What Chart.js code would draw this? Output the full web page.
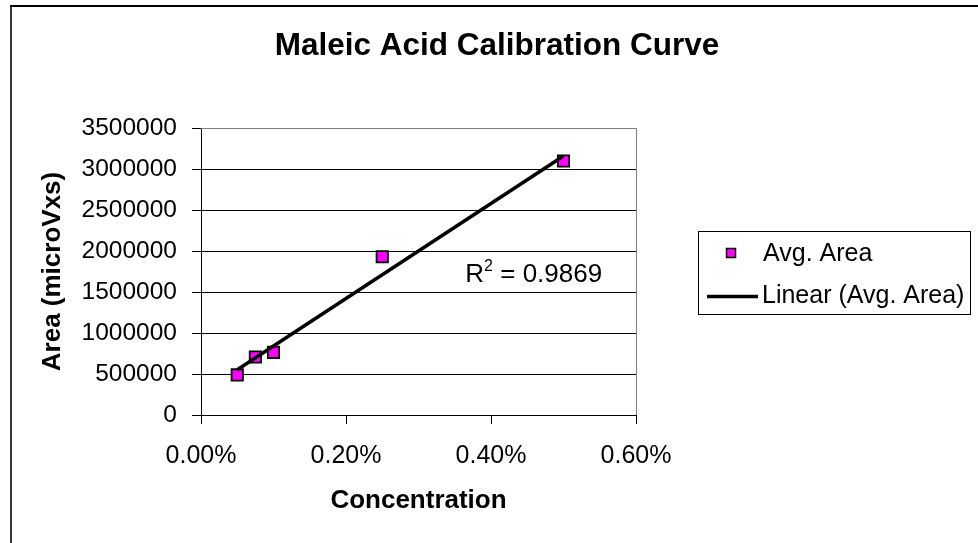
<!DOCTYPE html>
<html><head><meta charset="utf-8">
<script src="https://cdn.jsdelivr.net/npm/chart.js@4.4.0/dist/chart.umd.min.js"></script>
<style>html,body{margin:0;padding:0;background:#fff;overflow:hidden;}</style>
</head><body>
<canvas id="c" width="978" height="543" style="display:block;width:978px;height:543px"></canvas>
<script>
const titleText = 'Maleic Acid Calibration Curve';
const xTitle = 'Concentration';
const yTitle = 'Area (microVxs)';
const seriesName = 'Avg. Area';
const trendName = 'Linear (Avg. Area)';
const concentration = [0.0005, 0.00075, 0.001, 0.0025, 0.005];
const avgArea = [489000, 708000, 764000, 1930000, 3098000];
const trendConcentration = [0.0005, 0.005];
const trendArea = [552000, 3158000];
const xTicks = [0, 0.002, 0.004, 0.006];
const yTicks = [0, 500000, 1000000, 1500000, 2000000, 2500000, 3000000, 3500000];
const rSquared = '0.9869';

const FONT = "'Liberation Sans', Arial, sans-serif";

const decor = {
  id: 'decor',
  beforeDatasetsDraw(chart) {
    const {ctx, chartArea: a} = chart;
    ctx.save();
    ctx.strokeStyle = '#808080';
    ctx.lineWidth = 1;
    ctx.beginPath();
    ctx.moveTo(a.left, Math.round(a.top) + 0.5);
    ctx.lineTo(Math.round(a.right) + 0.5, Math.round(a.top) + 0.5);
    ctx.lineTo(Math.round(a.right) + 0.5, a.bottom);
    ctx.stroke();
    ctx.restore();
  },
  afterDraw(chart) {
    const {ctx} = chart;
    const xs = chart.scales.x, ys = chart.scales.y;
    ctx.save();
    // outer frame
    ctx.fillStyle = '#3a3a3a';
    ctx.fillRect(10, 6, 2, 543);
    ctx.fillStyle = '#000';
    ctx.fillRect(10, 5, 968, 2);
    // title
    ctx.fillStyle = '#000';
    ctx.font = 'bold 31.5px ' + FONT;
    ctx.textAlign = 'center';
    ctx.textBaseline = 'middle';
    ctx.fillText(titleText, 497, 46);
    // legend box
    ctx.strokeStyle = '#000';
    ctx.lineWidth = 1;
    ctx.strokeRect(698.5, 231.5, 272, 83);
    ctx.fillStyle = '#FF00FF';
    ctx.fillRect(726.5, 248.5, 9, 9);
    ctx.lineWidth = 1.5;
    ctx.strokeRect(726.5, 248.5, 9, 9);
    ctx.lineWidth = 3.5;
    ctx.beginPath();
    ctx.moveTo(707, 296.5);
    ctx.lineTo(758, 296.5);
    ctx.stroke();
    ctx.fillStyle = '#000';
    ctx.font = '25px ' + FONT;
    ctx.textAlign = 'left';
    ctx.textBaseline = 'middle';
    ctx.fillText(seriesName, 763, 254);
    ctx.fillText(trendName, 762, 296);
    // R squared label, anchored in data coordinates
    const rx = xs.getPixelForValue(0.003646);
    const ry = ys.getPixelForValue(1625000);
    ctx.textBaseline = 'alphabetic';
    ctx.font = '26px ' + FONT;
    ctx.fillText('R', rx, ry);
    const w1 = ctx.measureText('R').width;
    ctx.font = '16px ' + FONT;
    ctx.fillText('2', rx + w1, ry - 11);
    const w2 = ctx.measureText('2').width;
    ctx.font = '26px ' + FONT;
    ctx.fillText(' = ' + rSquared, rx + w1 + w2, ry);
    ctx.restore();
  }
};

new Chart(document.getElementById('c'), {
  type: 'scatter',
  data: {
    datasets: [
      {
        label: trendName,
        type: 'line',
        data: trendConcentration.map((x, i) => ({x, y: trendArea[i]})),
        borderColor: '#000',
        borderWidth: 3.5,
        pointRadius: 0,
        fill: false,
        order: 0
      },
      {
        label: seriesName,
        data: concentration.map((x, i) => ({x, y: avgArea[i]})),
        pointStyle: 'rect',
        pointRadius: 8,
        backgroundColor: '#FF00FF',
        borderColor: '#000',
        borderWidth: 1.8,
        order: 1
      }
    ]
  },
  options: {
    responsive: false,
    animation: false,
    events: [],
    layout: {padding: {top: 128, right: 342, bottom: 0, left: 0}},
    plugins: {legend: {display: false}, title: {display: false}, tooltip: {enabled: false}},
    scales: {
      x: {
        type: 'linear',
        min: xTicks[0],
        max: xTicks[xTicks.length - 1],
        afterBuildTicks(s) { s.ticks = xTicks.map(v => ({value: v})); },
        afterFit(s) { s.height = 128; },
        ticks: {
          color: '#000',
          font: {family: FONT, size: 25},
          padding: 17,
          maxRotation: 0,
          autoSkip: false,
          callback: v => (v * 100).toFixed(2) + '%'
        },
        grid: {drawOnChartArea: false, drawTicks: true, tickLength: 9, tickColor: '#000', color: '#000'},
        border: {color: '#000', width: 1},
        title: {display: true, text: xTitle, color: '#000', font: {family: FONT, size: 26, weight: 'bold'}, padding: {top: 0, bottom: 27}}
      },
      y: {
        type: 'linear',
        min: yTicks[0],
        max: yTicks[yTicks.length - 1],
        afterBuildTicks(s) { s.ticks = yTicks.map(v => ({value: v})); },
        afterFit(s) { s.width = 201; },
        ticks: {
          color: '#000',
          font: {family: FONT, size: 24.5},
          padding: 15,
          autoSkip: false,
          callback: v => String(v)
        },
        grid: {drawOnChartArea: true, drawTicks: true, tickLength: 9, tickColor: '#000', color: '#000', lineWidth: 1},
        border: {color: '#000', width: 1},
        title: {display: true, text: yTitle, color: '#000', font: {family: FONT, size: 26, weight: 'bold'}, padding: {top: 37, bottom: 0}}
      }
    }
  },
  plugins: [decor]
});
</script>
</body></html>
